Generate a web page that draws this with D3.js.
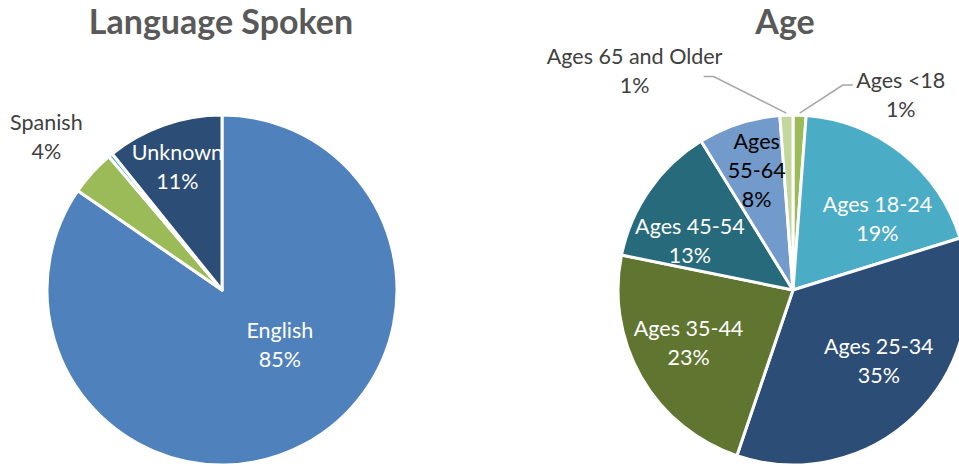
<!DOCTYPE html>
<html>
<head>
<meta charset="utf-8">
<script src="https://cdn.jsdelivr.net/npm/d3@7"></script>
<style>
  body { margin: 0; background: #fff; overflow: hidden; }
  svg { display: block; font-family: Lato, "Open Sans", sans-serif; }
</style>
</head>
<body>
<div id="chart"></div>
<script>
// language pie
const langCategories = ['English', 'Spanish', 'Other', 'Unknown'];
const langValues = [84.6, 4.2, 0.4, 10.8];
const langLabels = ['85%', '4%', '', '11%'];
const langColors = ['#4f81bd', '#9bbb59', '#4bacc6', '#2c4d75'];

// age pie
const ageCategories = ['Ages <18', 'Ages 18-24', 'Ages 25-34', 'Ages 35-44', 'Ages 45-54', 'Ages 55-64', 'Ages 65 and Older'];
const ageValues = [1.2, 19, 35, 23, 13, 7.6, 1.2];
const ageLabels = ['1%', '19%', '35%', '23%', '13%', '8%', '1%'];
const ageColors = ['#9bbb59', '#4bacc6', '#2c4d75', '#5f7530', '#276a7c', '#729aca', '#c3d69b'];

const width = 959, height = 466;
const R = 175;

const svg = d3.select('#chart').append('svg')
    .attr('width', width)
    .attr('height', height);

// label placement: [angle in degrees from 12 o'clock, radius as fraction of R], null = no label
const langLayout = {
    'English': { pos: [134, 0.46], color: '#fff', lines: ['English'] },
    'Spanish': { pos: [311, 1.33], color: '#404040', lines: ['Spanish'] },
    'Other': null,
    'Unknown': { pos: [340, 0.745], color: '#fff', lines: ['Unknown'], clip: true }
};
const ageLayout = {
    'Ages <18': { pos: [29, 1.27], color: '#404040', lines: ['Ages <18'], leader: true },
    'Ages 18-24': { pos: [50, 0.63], color: '#fff', lines: ['Ages 18-24'] },
    'Ages 25-34': { pos: [130, 0.64], color: '#fff', lines: ['Ages 25-34'] },
    'Ages 35-44': { pos: [243, 0.67], color: '#fff', lines: ['Ages 35-44'] },
    'Ages 45-54': { pos: [295, 0.65], color: '#fff', lines: ['Ages 45-54'] },
    'Ages 55-64': { pos: [343, 0.71], color: '#000', lines: ['Ages', '55-64'] },
    'Ages 65 and Older': { pos: [324, 1.54], color: '#404040', lines: ['Ages 65 and Older'], leader: true }
};

drawPie(svg, {
    id: 'lang', cx: 222, cy: 290, title: 'Language Spoken', titleX: 221,
    categories: langCategories, values: langValues, labels: langLabels,
    colors: langColors, layout: langLayout
});
drawPie(svg, {
    id: 'age', cx: 793, cy: 290, title: 'Age', titleX: 785,
    categories: ageCategories, values: ageValues, labels: ageLabels,
    colors: ageColors, layout: ageLayout
});

function polar(cx, cy, deg, r) {
    const a = deg * Math.PI / 180;
    return [cx + r * Math.sin(a), cy - r * Math.cos(a)];
}

function drawPie(svg, cfg) {
    const data = cfg.categories.map((c, i) => ({ name: c, value: cfg.values[i], label: cfg.labels[i], color: cfg.colors[i] }));
    const pie = d3.pie().sort(null).value(d => d.value);
    const arcs = pie(data);
    const arc = d3.arc().innerRadius(0).outerRadius(R);

    svg.append('text')
        .attr('x', cfg.titleX)
        .attr('y', 34)
        .attr('text-anchor', 'middle')
        .attr('fill', '#595959')
        .style('font-size', '34px')
        .style('font-weight', 'bold')
        .text(cfg.title);

    const g = svg.append('g').attr('transform', `translate(${cfg.cx},${cfg.cy})`);

    const defs = svg.append('defs');
    arcs.forEach((d, i) => {
        defs.append('clipPath').attr('id', `${cfg.id}-clip-${i}`)
            .append('path').attr('d', arc(d));
    });

    g.selectAll('path.slice')
        .data(arcs)
        .enter().append('path')
        .attr('class', 'slice')
        .attr('d', arc)
        .attr('fill', d => d.data.color)
        .attr('stroke', '#fff')
        .attr('stroke-width', 3)
        .attr('stroke-linejoin', 'round');

    arcs.forEach((d, i) => {
        const lay = cfg.layout[d.data.name];
        if (!lay) return;
        const [x, y] = polar(0, 0, lay.pos[0], lay.pos[1] * R);
        const lines = lay.lines.concat([d.data.label]);
        const lh = 29;
        const y0 = y - (lines.length - 1) * lh / 2 + 7;

        if (lay.leader) {
            // leader line from beside the label down to the slice edge
            const mid = (d.startAngle + d.endAngle) / 2 * 180 / Math.PI;
            const p0 = polar(0, 0, mid, R + 2);
            const right = x > 0;
            const tx = right ? x - 48 : x + 69;
            const ty = right ? y0 - 3 : y0 + 12;
            const p1 = [right ? tx - 10 : tx + 10, ty];
            g.append('polyline')
                .attr('points', [[tx, ty], p1, p0].map(p => p.join(',')).join(' '))
                .attr('fill', 'none')
                .attr('stroke', '#a6a6a6')
                .attr('stroke-width', 1.5);
        }

        const t = g.append('text')
            .attr('text-anchor', 'middle')
            .attr('fill', lay.color)
            .style('font-size', '21.5px');
        if (lay.clip) t.attr('clip-path', `url(#${cfg.id}-clip-${i})`);
        lines.forEach((ln, k) => {
            t.append('tspan').attr('x', x).attr('y', y0 + k * lh).text(ln);
        });
    });
}
</script>
</body>
</html>
